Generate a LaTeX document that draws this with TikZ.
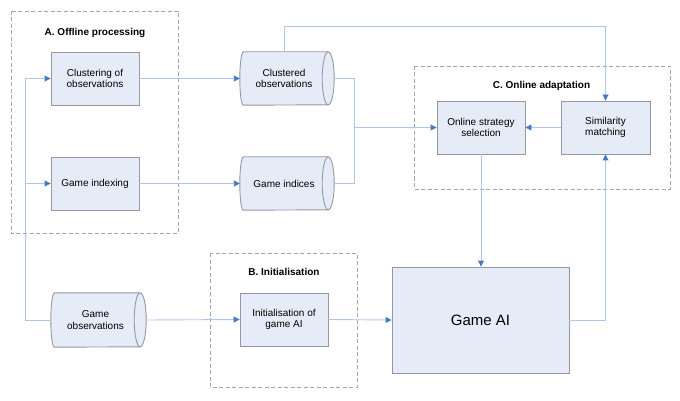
\documentclass[tikz,border=0pt]{standalone}
\usepackage{fontspec}
\setmainfont{Liberation Sans}
\usetikzlibrary{arrows.meta}
\definecolor{boxfill}{RGB}{230,236,247}
\definecolor{boxline}{RGB}{150,152,160}
\definecolor{lineblue}{RGB}{176,198,230}
\definecolor{tipblue}{RGB}{70,120,200}
\definecolor{groupgray}{RGB}{165,165,165}
\tikzset{
  procbox/.style={draw=boxline, fill=boxfill, line width=0.9pt, minimum width=88pt, minimum height=53pt, inner sep=1pt, align=center, font=\fontsize{10}{11.7}\selectfont},
  cylnode/.style={minimum width=88pt, minimum height=53pt, inner sep=1pt, align=center, font=\fontsize{10}{11.7}\selectfont},
  cylline/.style={draw=boxline, fill=boxfill, line width=0.9pt},
  group/.style={draw=groupgray, line width=0.8pt, dash pattern=on 4pt off 2.5pt},
  grouptitle/.style={font=\fontsize{10}{12}\selectfont\bfseries},
  conn/.style={draw=lineblue, line width=0.9pt},
  arr/.style={conn, -{Triangle[length=6pt,width=6pt,color=tipblue]}}
}
\newcommand\drawcyl[2]{% node name, half height
  \draw[cylline] ([xshift=3.5pt]#1.north west) -- (#1.north east)
    arc[start angle=-90, end angle=90, x radius=6, y radius=#2]
    -- ([xshift=3.5pt]#1.south west)
    arc[start angle=90, end angle=270, x radius=3.5, y radius=#2] -- cycle;
  \draw[cylline, fill=none] (#1.north east)
    arc[start angle=270, end angle=90, x radius=6, y radius=#2];
}
\begin{document}
\begin{tikzpicture}[x=1pt, y=-1pt]
\useasboundingbox (0,0) rectangle (680,401);
% groups
\draw[group] (11,11) rectangle (178,233);
\node[grouptitle] (ta) at (95,33) {A. Offline processing};
\draw[group] (414,66) rectangle (670,189);
\node[grouptitle] (tc) at (541.5,86) {C. Online adaptation};
\draw[group] (210,253) rectangle (357,387);
\node[grouptitle] (tb) at (284,272) {B. Initialisation};
% boxes
\node[procbox] (clust) at (95,78.5) {Clustering of\\observations};
\node[procbox] (gidx) at (95,183.5) {Game indexing};
\node[procbox] (oss) at (481,127.5) {Online strategy\\selection};
\node[procbox, minimum width=89pt] (sim) at (605.5,127.5) {Similarity\\matching};
\node[procbox, minimum width=177pt, minimum height=106pt, font=\fontsize{15}{18}\selectfont] (gai) at (480.5,320) {Game AI};
\node[procbox] (init) at (284,319.5) {Initialisation of\\game AI};
% cylinders
\node[cylnode] (co) at (284,78.5) {};
\drawcyl{co}{26.5}
\node[cylnode] at (co) {Clustered\\observations};
\node[cylnode] (gi) at (284,183.5) {};
\drawcyl{gi}{26.5}
\node[cylnode] at (gi) {Game indices};
\node[cylnode, minimum width=89pt, minimum height=54pt] (gobs) at (95.5,320) {};
\drawcyl{gobs}{27}
\node[cylnode] at (gobs) {Game\\observations};
% connectors
\coordinate (lft) at (25,320);
\coordinate (mrg) at (354,127.5);
\draw[conn] (gobs.west) -- (lft);
\draw[arr] (lft) |- (clust.west);
\draw[arr] (lft |- gidx.west) -- (gidx.west);
\draw[arr] (clust.east) -- (co.west);
\draw[arr] (gidx.east) -- (gi.west);
\draw[conn] ([xshift=6pt]co.east) -| (mrg);
\draw[conn] ([xshift=6pt]gi.east) -| (mrg);
\draw[arr] (mrg) -- (oss.west);
\draw[arr] (co.north) |- (605.5,26) -- (sim.north);
\draw[arr] (sim.west) -- (oss.east);
\draw[arr] (oss.south) -- (oss.south |- gai.north);
\draw[arr] (gai.east) -| (sim.south);
\draw[arr] ([xshift=6pt]gobs.east) -- (init.west);
\draw[arr] (init.east) -- (gai.west);
\end{tikzpicture}
\end{document}
